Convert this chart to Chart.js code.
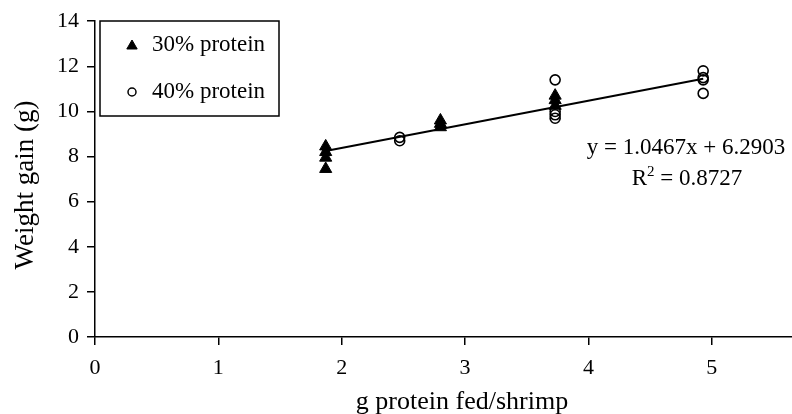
<!DOCTYPE html>
<html>
<head>
<meta charset="utf-8">
<script src="https://cdn.jsdelivr.net/npm/chart.js@4.4.1/dist/chart.umd.min.js"></script>
<style>
  html, body { margin: 0; padding: 0; background: #fff; }
  #wrap { width: 792px; height: 414px; position: relative; }
</style>
</head>
<body>
<div id="wrap"><canvas id="c" width="792" height="414"></canvas></div>
<script>
// ---- Data ----
const series30Label = "30% protein";
const series40Label = "40% protein";
const protein30X = [1.87, 1.87, 1.87, 1.87, 2.8, 2.8, 2.8, 3.73, 3.73, 3.73];
const protein30Y = [8.45, 8.2, 7.95, 7.45, 9.6, 9.45, 9.3, 10.7, 10.5, 10.25];
const protein40X = [2.47, 2.47, 3.73, 3.73, 3.73, 3.73, 4.93, 4.93, 4.93, 4.93];
const protein40Y = [8.85, 8.7, 11.4, 10.0, 9.85, 9.7, 11.8, 11.5, 11.4, 10.8];
const trendX = [1.87, 4.93];
const trendY = [8.25, 11.45];
const equationText = "y = 1.0467x + 6.2903";
const r2Left = "R";
const r2Sup = "2";
const r2Right = " = 0.8727";
const xTitle = "g protein fed/shrimp";
const yTitle = "Weight gain (g)";
const xTicks = [0, 1, 2, 3, 4, 5];
const yTicks = [0, 2, 4, 6, 8, 10, 12, 14];

const FONT = "'Liberation Serif', 'Times New Roman', serif";

function pts(xs, ys) { return xs.map((x, i) => ({ x: x, y: ys[i] })); }

const annotationPlugin = {
  id: 'annot',
  afterDatasetsDraw(chart) {
    const ctx = chart.ctx;
    ctx.save();
    // legend box
    const bx = 100, by = 21, bw = 179, bh = 95;
    ctx.fillStyle = '#fff';
    ctx.fillRect(bx, by, bw, bh);
    ctx.strokeStyle = '#000';
    ctx.lineWidth = 1.5;
    ctx.strokeRect(bx, by, bw, bh);
    // legend markers
    ctx.fillStyle = '#000';
    ctx.strokeStyle = '#000';
    ctx.lineWidth = 1;
    Chart.helpers.drawPoint(ctx, { pointStyle: 'triangle', radius: 6, borderWidth: 1 }, 132, 46);
    ctx.beginPath();
    ctx.arc(132, 92, 4, 0, Math.PI * 2);
    ctx.lineWidth = 1.5;
    ctx.stroke();
    ctx.fillStyle = '#000';
    ctx.font = "23px " + FONT;
    ctx.textBaseline = 'middle';
    ctx.textAlign = 'left';
    ctx.fillText(chart.data.datasets[0].label, 152, 45);
    ctx.fillText(chart.data.datasets[1].label, 152, 92);
    // equation
    ctx.textAlign = 'center';
    ctx.fillText(equationText, 686, 148);
    // R^2 line with superscript
    const bigF = "23px " + FONT, smallF = "15px " + FONT;
    ctx.font = bigF;
    const wR = ctx.measureText(r2Left).width;
    const wRight = ctx.measureText(r2Right).width;
    ctx.font = smallF;
    const wSup = ctx.measureText(r2Sup).width;
    const total = wR + wSup + wRight;
    let x0 = 687 - total / 2;
    ctx.textAlign = 'left';
    ctx.font = bigF;
    ctx.fillText(r2Left, x0, 179);
    ctx.font = smallF;
    ctx.fillText(r2Sup, x0 + wR, 172);
    ctx.font = bigF;
    ctx.fillText(r2Right, x0 + wR + wSup, 179);
    // x axis title
    ctx.textAlign = 'center';
    ctx.font = "26px " + FONT;
    ctx.fillText(xTitle, 462, 402);
    // y axis title
    ctx.translate(26, 185);
    ctx.rotate(-Math.PI / 2);
    ctx.font = "27px " + FONT;
    ctx.fillText(yTitle, 0, 0);
    ctx.restore();
  }
};

Chart.defaults.font.family = FONT;

const chart = new Chart(document.getElementById('c'), {
  type: 'scatter',
  data: {
    datasets: [
      {
        label: series30Label,
        data: pts(protein30X, protein30Y),
        pointStyle: 'triangle',
        pointRadius: 7,
        backgroundColor: '#000',
        borderColor: '#000',
        borderWidth: 1,
        order: 2
      },
      {
        label: series40Label,
        data: pts(protein40X, protein40Y),
        pointStyle: 'circle',
        pointRadius: 5,
        backgroundColor: 'rgba(255,255,255,0)',
        borderColor: '#000',
        borderWidth: 1.6,
        order: 1
      },
      {
        label: 'trend',
        type: 'line',
        data: pts(trendX, trendY),
        borderColor: '#000',
        borderWidth: 2,
        pointRadius: 0,
        showLine: true,
        fill: false,
        order: 3
      }
    ]
  },
  plugins: [annotationPlugin],
  options: {
    responsive: false,
    animation: false,
    devicePixelRatio: 1,
    layout: { autoPadding: false, padding: { top: 21, right: 0, left: 0, bottom: 0 } },
    plugins: {
      legend: { display: false },
      tooltip: { enabled: false }
    },
    scales: {
      x: {
        type: 'linear',
        min: 0,
        max: 5.65,
        afterFit(s) { s.height = 77; s.paddingRight = 0; s.paddingLeft = 0; },
        afterBuildTicks(s) { s.ticks = xTicks.map(v => ({ value: v })); },
        ticks: {
          color: '#000',
          font: { size: 22, family: FONT },
          padding: 10,
          maxRotation: 0
        },
        grid: { display: true, drawOnChartArea: false, drawTicks: true, tickLength: 8, color: '#000', lineWidth: 1.5 },
        border: { display: true, color: '#000', width: 1.5 },
        title: { display: false }
      },
      y: {
        type: 'linear',
        min: 0,
        max: 14,
        afterFit(s) { s.width = 95; },
        afterBuildTicks(s) { s.ticks = yTicks.map(v => ({ value: v })); },
        ticks: {
          color: '#000',
          font: { size: 22, family: FONT },
          padding: 8
        },
        grid: { display: true, drawOnChartArea: false, drawTicks: true, tickLength: 8, color: '#000', lineWidth: 1.5 },
        border: { display: true, color: '#000', width: 1.5 },
        title: { display: false }
      }
    }
  }
});
</script>
</body>
</html>
